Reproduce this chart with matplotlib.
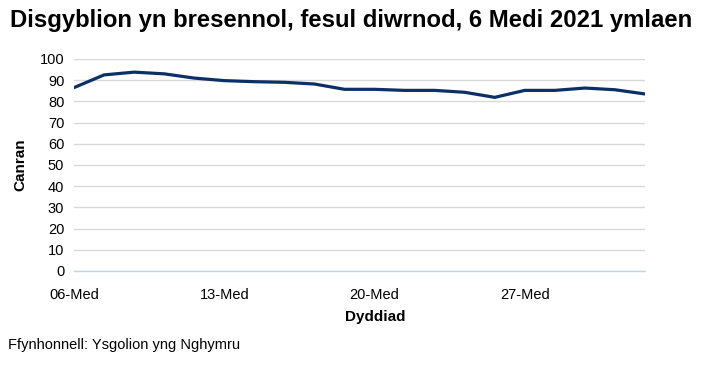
import matplotlib.pyplot as plt

plt.rcParams['font.family'] = ['Liberation Sans', 'DejaVu Sans']

dates = ['06-Med', '07-Med', '08-Med', '09-Med', '10-Med',
         '13-Med', '14-Med', '15-Med', '16-Med', '17-Med',
         '20-Med', '21-Med', '22-Med', '23-Med', '24-Med',
         '27-Med', '28-Med', '29-Med', '30-Med', '01-Hyd']
attendance = [86.5, 92.5, 93.8, 93.0, 91.0,
              89.8, 89.3, 89.0, 88.2, 85.7,
              85.7, 85.2, 85.2, 84.3, 81.9,
              85.2, 85.2, 86.3, 85.5, 83.5]
tick_labels = ['06-Med', '13-Med', '20-Med', '27-Med']

fig = plt.figure(figsize=(7.09, 3.66), dpi=100)
ax = fig.add_axes([74 / 709, 1 - 271 / 366, (645 - 74) / 709, (271 - 59) / 366])

x = list(range(len(dates)))
ax.plot(x, attendance, color='#0b3068', linewidth=2.3, solid_joinstyle='round')

ax.set_ylim(0, 100)
ax.set_xlim(0, len(dates) - 1)
ax.set_yticks(range(0, 101, 10))
ax.set_xticks([dates.index(t) for t in tick_labels])
ax.set_xticklabels(tick_labels)
ax.tick_params(axis='both', length=0, labelsize=10.5, colors='#333333', labelcolor='black')
ax.tick_params(axis='y', pad=7)
ax.tick_params(axis='x', pad=12)
ax.grid(axis='y', color='#d9d9d9', linewidth=1)
ax.set_axisbelow(True)
for s in ['top', 'right', 'left']:
    ax.spines[s].set_visible(False)
ax.spines['bottom'].set_color('#bdd7ee')
ax.spines['bottom'].set_linewidth(1)

fig.text(10 / 709, 1 - 21 / 366, 'Disgyblion yn bresennol, fesul diwrnod, 6 Medi 2021 ymlaen',
         fontsize=17.2, fontweight='bold', va='center', ha='left')
fig.text(20 / 709, 1 - 165 / 366, 'Canran', fontsize=11, fontweight='bold',
         rotation=90, va='center', ha='center')
fig.text(375 / 709, 1 - 317 / 366, 'Dyddiad', fontsize=11, fontweight='bold',
         va='center', ha='center')
fig.text(8 / 709, 1 - 345 / 366, 'Ffynhonnell: Ysgolion yng Nghymru', fontsize=10.5,
         va='center', ha='left')

fig.savefig('out.png', dpi=100)
